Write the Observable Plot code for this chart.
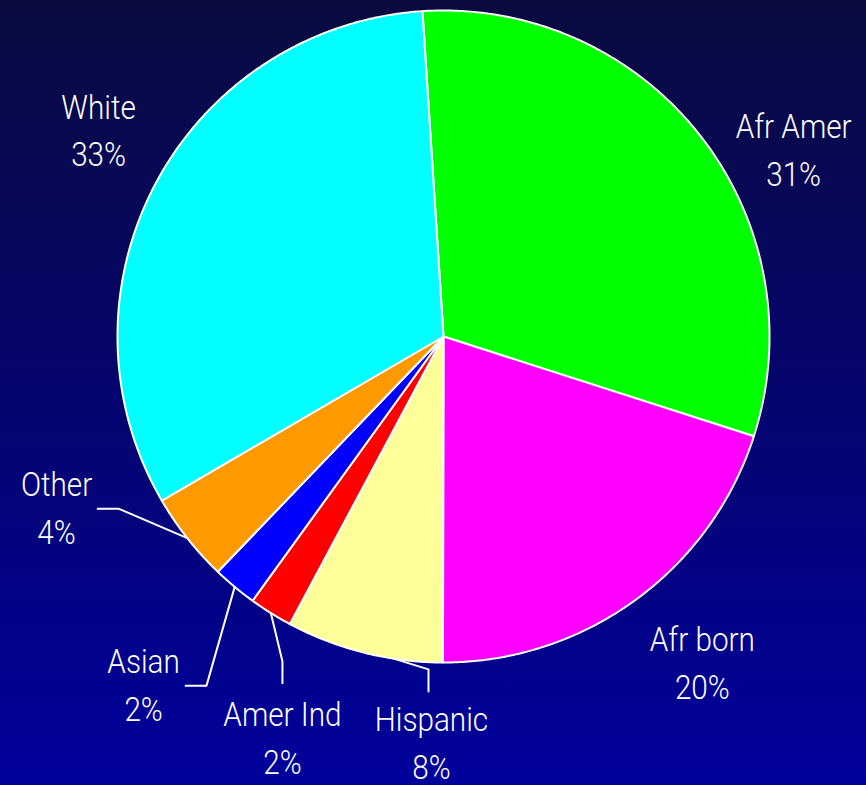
<!DOCTYPE html>
<html>
<head>
<meta charset="utf-8">
<script src="https://cdn.jsdelivr.net/npm/d3@7"></script>
<script src="https://cdn.jsdelivr.net/npm/@observablehq/plot@0.6"></script>
<style>
  html, body { margin: 0; padding: 0; background: #00009c; }
  #chart svg { display: block; }
</style>
</head>
<body>
<div id="chart"></div>
<script>
// ---- data ----
const categories = ["Afr Amer", "Afr born", "Hispanic", "Amer Ind", "Asian", "Other", "White"];
const shares     = [30.97, 20.08, 7.78, 2.15, 2.21, 4.44, 32.36];   // percent, clockwise
const pctLabels  = ["31%", "20%", "8%", "2%", "2%", "4%", "33%"];
const colors     = ["#00ff00", "#ff00ff", "#ffff99", "#ff0000", "#0000ff", "#ff9900", "#00ffff"];

// ---- layout (pie-radius units, separate from data) ----
const startAngle = -3.7;           // degrees clockwise from north
const labelLayout = {
  "Afr Amer": {x: 1.074, y: 0.582},
  "Afr born": {x: 0.794, y: -0.991},
  "Hispanic": {x: -0.037, y: -1.237, leader: [[-0.046, -1.021], [-0.046, -1.089]], leaderAngle: 188.8},
  "Amer Ind": {x: -0.494, y: -1.221, leader: [[-0.494, -0.997], [-0.494, -1.064]]},
  "Asian":    {x: -0.920, y: -1.059, leader: [[-0.727, -1.071], [-0.791, -1.071]]},
  "Other":    {x: -1.187, y: -0.516, leader: [[-0.997, -0.528], [-1.061, -0.528]]},
  "White":    {x: -1.058, y: 0.642}
};

const W = 866, H = 785, R = 326, CX = 443, CY = 336;
const rad = d => d * Math.PI / 180;
const pt = (deg, r = 1) => ({x: r * Math.sin(rad(deg)), y: r * Math.cos(rad(deg))});

// slice geometry from the shares
const total = d3.sum(shares);
let acc = startAngle;
const slices = categories.map((name, i) => {
  const a0 = acc, a1 = acc + shares[i] / total * 360;
  acc = a1;
  return {name, a0, a1, mid: (a0 + a1) / 2, pct: pctLabels[i]};
});

const slicePts = [];
for (const s of slices) {
  slicePts.push({name: s.name, ...pt(0, 0)});
  const n = Math.max(2, Math.ceil((s.a1 - s.a0) / 0.5));
  for (let k = 0; k <= n; k++) slicePts.push({name: s.name, ...pt(s.a0 + (s.a1 - s.a0) * k / n)});
  slicePts.push({name: s.name, ...pt(0, 0)});
}

const leaderPts = [];
for (const s of slices) {
  const L = labelLayout[s.name];
  if (!L.leader) continue;
  const a = L.leaderAngle ?? s.mid;
  leaderPts.push({name: s.name, ...pt(a)});
  for (const [x, y] of L.leader) leaderPts.push({name: s.name, x, y});
}

const labels = slices.map(s => ({x: labelLayout[s.name].x, y: labelLayout[s.name].y, text: s.name + "\n" + s.pct}));

const chart = Plot.plot({
  width: W, height: H,
  margin: 0,
  x: {domain: [-CX / R, (W - CX) / R], axis: null},
  y: {domain: [-(H - CY) / R, CY / R], axis: null},
  color: {domain: categories, range: colors},
  style: {background: "linear-gradient(to bottom, #0a0a40 0%, #00009c 100%)", overflow: "visible"},
  marks: [
    Plot.line(slicePts, {x: "x", y: "y", z: "name", fill: "name", stroke: "white", strokeWidth: 2, strokeLinejoin: "round"}),
    Plot.line(leaderPts, {x: "x", y: "y", z: "name", stroke: "white", strokeWidth: 2}),
    Plot.text(labels, {x: "x", y: "y", text: "text", fill: "white", fontSize: 33, lineHeight: 1.45,
      fontFamily: "Roboto, 'Liberation Sans', Arial, sans-serif", fontWeight: 300,
      textAnchor: "middle", lineAnchor: "middle"})
  ]
});
// narrow the label glyphs horizontally (condensed face like the reference)
chart.querySelectorAll("text").forEach(t => {
  const tr = t.getAttribute("transform");
  if (tr) t.setAttribute("transform", tr + " scale(0.9,1)");
  else {
    const x = +t.getAttribute("x") || 0, y = +t.getAttribute("y") || 0;
    t.setAttribute("transform", `translate(${x},${y}) scale(0.9,1) translate(${-x},${-y})`);
  }
});
document.getElementById("chart").append(chart);
</script>
</body>
</html>
